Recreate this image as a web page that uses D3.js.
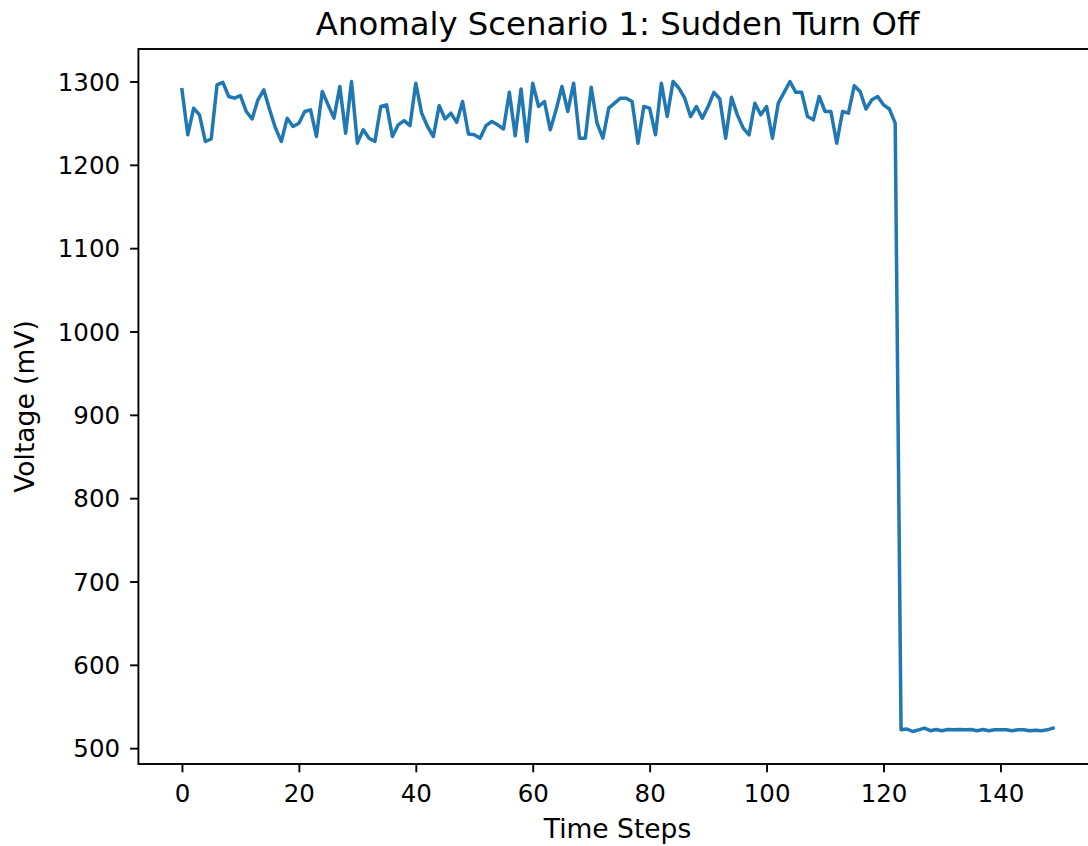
<!DOCTYPE html>
<html>
<head>
<meta charset="utf-8">
<script src="https://cdn.jsdelivr.net/npm/d3@7"></script>
<style>
  html, body { margin: 0; padding: 0; background: #fff; }
  svg { display: block; }
  text { font-family: "DejaVu Sans", sans-serif; fill: #000; }
</style>
</head>
<body>
<svg id="chart" width="1088" height="846"></svg>
<script>
// ---- data ----
const title = "Anomaly Scenario 1: Sudden Turn Off";
const xLabel = "Time Steps";
const yLabel = "Voltage (mV)";
const normalVoltage = [
  1290, 1236, 1268, 1260, 1228, 1231, 1296, 1299, 1282, 1280,
  1283, 1264, 1255, 1278, 1290, 1266, 1244, 1228, 1256, 1246,
  1250, 1264, 1266, 1234, 1288, 1272, 1256, 1294, 1238, 1300,
  1226, 1242, 1232, 1228, 1270, 1272, 1234, 1248, 1253, 1247,
  1298, 1262, 1246, 1234, 1271, 1255, 1262, 1251, 1276, 1237,
  1236, 1232, 1247, 1252, 1248, 1243, 1287, 1235, 1291, 1228,
  1298, 1270, 1276, 1242, 1266, 1294, 1264, 1298, 1232, 1232,
  1293, 1250, 1232, 1268, 1274, 1280, 1280, 1276, 1226, 1270,
  1268, 1236, 1298, 1258, 1300, 1292, 1280, 1258, 1270, 1256,
  1270, 1287, 1279, 1232, 1281, 1260, 1244, 1236, 1274, 1260,
  1270, 1232, 1274, 1287, 1300, 1287, 1287, 1258, 1254, 1282,
  1264, 1264, 1226, 1264, 1262, 1295, 1288, 1267, 1278, 1282,
  1272, 1267, 1250
];
const offVoltage = [
  522, 523, 520, 522, 524, 521, 522.5, 521, 522.5, 522,
  522.5, 522, 522.5, 521, 522.5, 521, 522, 522, 522, 521,
  522, 522, 521, 521.5, 521, 522, 524
];
const voltage = normalVoltage.concat(offVoltage);
const timeSteps = voltage.map((_, i) => i);
const xTicks = [0, 20, 40, 60, 80, 100, 120, 140];
const yTicks = [500, 600, 700, 800, 900, 1000, 1100, 1200, 1300];

// ---- layout ----
const W = 1088, H = 846;
const mLeft = 138.4, mRight = 1096.6, mTop = 49, mBottom = 764;
const svg = d3.select("#chart");
svg.append("rect").attr("width", W).attr("height", H).attr("fill", "#fff");

const xMin = d3.min(timeSteps), xMax = d3.max(timeSteps);
const xPad = (xMax - xMin) * 0.05;
const yMin = d3.min(voltage), yMax = d3.max(voltage);
const yPad = (yMax - yMin) * 0.05;

const x = d3.scaleLinear().domain([xMin - xPad, xMax + xPad]).range([mLeft, mRight]);
const y = d3.scaleLinear().domain([yMin - yPad, yMax + yPad]).range([mBottom, mTop]);

// line
const line = d3.line().x((d, i) => x(timeSteps[i])).y(d => y(d));
svg.append("path")
  .datum(voltage)
  .attr("d", line)
  .attr("fill", "none")
  .attr("stroke", "#1f77b4")
  .attr("stroke-width", 3.5)
  .attr("stroke-linejoin", "round")
  .attr("stroke-linecap", "square");

// axes
const tickLen = 8.3;
const xAxis = d3.axisBottom(x).tickValues(xTicks).tickSize(tickLen).tickPadding(11).tickFormat(d3.format("d"));
const yAxis = d3.axisLeft(y).tickValues(yTicks).tickSize(tickLen).tickPadding(10).tickFormat(d3.format("d"));

const gx = svg.append("g").attr("transform", `translate(0,${mBottom})`).call(xAxis);
const gy = svg.append("g").attr("transform", `translate(${mLeft},0)`).call(yAxis);
[gx, gy].forEach(g => {
  g.select(".domain").remove();
  g.selectAll(".tick line").attr("stroke", "#000").attr("stroke-width", 1.9);
  g.selectAll(".tick text")
    .style("font-family", "DejaVu Sans, sans-serif")
    .style("font-size", "24.5px")
    .attr("fill", "#000");
});
gx.selectAll(".tick text").attr("dy", "0.76em");
gy.selectAll(".tick text").attr("dy", "0.36em");

// spines
svg.append("rect")
  .attr("x", mLeft).attr("y", mTop)
  .attr("width", mRight - mLeft).attr("height", mBottom - mTop)
  .attr("fill", "none").attr("stroke", "#000").attr("stroke-width", 1.9);

// title and labels
svg.append("text")
  .attr("x", (mLeft + mRight) / 2).attr("y", 35)
  .attr("text-anchor", "middle")
  .style("font-size", "32.3px")
  .text(title);

svg.append("text")
  .attr("x", (mLeft + mRight) / 2).attr("y", 838)
  .attr("text-anchor", "middle")
  .style("font-size", "26.5px")
  .text(xLabel);

svg.append("text")
  .attr("transform", `translate(34,${(mTop + mBottom) / 2}) rotate(-90)`)
  .attr("text-anchor", "middle")
  .style("font-size", "26.5px")
  .text(yLabel);
</script>
</body>
</html>
